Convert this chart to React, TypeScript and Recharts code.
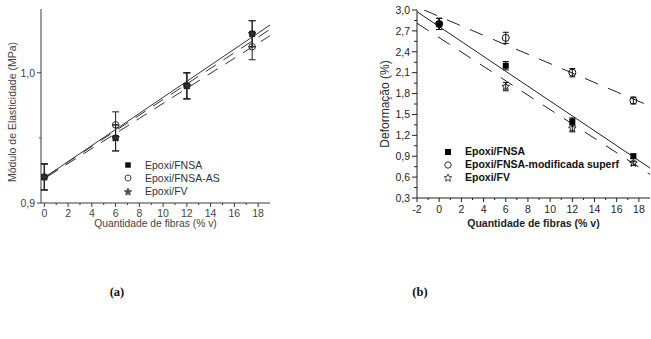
import React from "react";
import { ComposedChart, Scatter, XAxis, YAxis, ErrorBar, Legend, Label } from "recharts";

// quantidade de fibras (% v) used in both tests
const fibras = [0, 6, 12, 17.5];

// (a) módulo de elasticidade (MPa)
const moduloFnsa = [0.92, 0.95, 0.99, 1.03];
const moduloFnsaAs = [0.92, 0.96, 0.99, 1.02];
const moduloFv = [0.92, 0.95, 0.99, 1.03];
const moduloErro = [0.01, 0.01, 0.01, 0.01];

// (a) linear fits, end points
const ajusteModuloX = [0.3, 19];
const ajusteModuloFnsa = [0.9213, 1.0367];
const ajusteModuloFnsaAs = [0.9213, 1.0334];
const ajusteModuloFv = [0.9205, 1.0285];

// (b) deformação (%)
const deformFnsa = [2.8, 2.2, 1.4, 0.9];
const deformFnsaErro = [0.08, 0.06, 0.05, 0.03];
const deformModif = [2.8, 2.6, 2.1, 1.7];
const deformModifErro = [0.08, 0.08, 0.06, 0.05];
const deformFv = [2.8, 1.9, 1.3, 0.8];
const deformFvErro = [0.08, 0.06, 0.05, 0.03];

// (b) linear fits, end points
const ajusteDeformX = [-2, 19];
const ajusteDeformFnsa = [2.975, 0.73];
const ajusteDeformFv = [2.81, 0.64];
const ajusteDeformModifX = [-1.37, 19];
const ajusteDeformModif = [3.0, 1.62];

// ticks
const moduloXMajor = [0, 2, 4, 6, 8, 10, 12, 14, 16, 18];
const moduloXMinor = [1, 3, 5, 7, 9, 11, 13, 15, 17];
const moduloYMajor = [0.9, 1.0];
const moduloYMinor = [0.95];
const deformXMajor = [-2, 0, 2, 4, 6, 8, 10, 12, 14, 16, 18];
const deformXMinor = [-1, 1, 3, 5, 7, 9, 11, 13, 15, 17];
const deformYMajor = [0.3, 0.6, 0.9, 1.2, 1.5, 1.8, 2.1, 2.4, 2.7, 3.0];
const deformYMinor = [0.45, 0.75, 1.05, 1.35, 1.65, 1.95, 2.25, 2.55, 2.85];

const FONT = '"Liberation Sans", Arial, sans-serif';

const pts = (xs: number[], ys: number[], es?: number[]) =>
  xs.map((x, i) => ({ x, y: ys[i], e: es ? es[i] : 0 }));

const isIn = (v: number, list: number[]) => list.some((t) => Math.abs(t - v) < 1e-6);
const comma = (v: number) => v.toFixed(1).replace(".", ",");

const makeXTick =
  (major: number[], o: { fill: string; stroke: string; fontSize: number; dy: number }) =>
  (p: any) => {
    const v = p.payload.value;
    const big = isIn(v, major);
    return (
      <g>
        <line x1={p.x} x2={p.x} y1={p.y} y2={p.y + (big ? 4 : 2)} stroke={o.stroke} />
        {big && (
          <text x={p.x} y={p.y + o.dy} textAnchor="middle" fill={o.fill} fontSize={o.fontSize} fontFamily={FONT}>
            {String(v)}
          </text>
        )}
      </g>
    );
  };

const makeYTick =
  (major: number[], o: { fill: string; stroke: string; fontSize: number; len: number; gap: number }) =>
  (p: any) => {
    const v = p.payload.value;
    const big = isIn(v, major);
    return (
      <g>
        <line x1={p.x - (big ? o.len : o.len - 2)} x2={p.x} y1={p.y} y2={p.y} stroke={o.stroke} />
        {big && (
          <text x={p.x - o.len - o.gap} y={p.y} dy="0.36em" textAnchor="end" fill={o.fill} fontSize={o.fontSize} fontFamily={FONT}>
            {comma(v)}
          </text>
        )}
      </g>
    );
  };

const AxisTitle = (props: any) => {
  const { viewBox, text, dx = 0, dy = 0, vertical, size, weight, fill } = props;
  const x = vertical ? viewBox.x + dx : viewBox.x + viewBox.width / 2 + dx;
  const y = vertical ? viewBox.y + viewBox.height / 2 + dy : viewBox.y + dy;
  return (
    <text
      x={x}
      y={y}
      textAnchor="middle"
      dominantBaseline="central"
      transform={vertical ? `rotate(-90 ${x} ${y})` : undefined}
      fontSize={size}
      fontWeight={weight}
      fill={fill}
      fontFamily={FONT}
    >
      {text}
    </text>
  );
};

// marker shapes
const Square = ({ cx, cy, s = 6, fill = "#000" }: any) => (
  <rect x={cx - s / 2} y={cy - s / 2} width={s} height={s} fill={fill} />
);
const Ring = ({ cx, cy, r = 3.3, stroke = "#000" }: any) => (
  <circle cx={cx} cy={cy} r={r} fill="none" stroke={stroke} strokeWidth={1} />
);
const Star = ({ cx, cy, r = 4, fill = "none", stroke = "#000" }: any) => {
  const p: string[] = [];
  for (let k = 0; k < 10; k++) {
    const rr = k % 2 === 0 ? r : r * 0.45;
    const a = -Math.PI / 2 + (k * Math.PI) / 5;
    p.push(`${cx + rr * Math.cos(a)},${cy + rr * Math.sin(a)}`);
  }
  return <polygon points={p.join(" ")} fill={fill} stroke={stroke} strokeWidth={0.9} />;
};
const NoDot = () => <g />;

const LegendRows = ({ rows, size, weight, fill, rowH, gap }: any) => (
  <div style={{ fontFamily: FONT, fontSize: size, fontWeight: weight, color: fill }}>
    {rows.map((r: any) => (
      <div key={r.label} style={{ display: "flex", alignItems: "center", height: rowH, whiteSpace: "nowrap" }}>
        <svg width={10} height={10} style={{ marginRight: gap }}>
          {r.icon}
        </svg>
        <span style={{ lineHeight: `${rowH}px` }}>{r.label}</span>
      </div>
    ))}
  </div>
);

function ModuloChart() {
  const ink = "#3a3a3a";
  return (
    <ComposedChart width={300} height={240} margin={{ top: 9, right: 30, bottom: 0, left: 0 }}>
      <XAxis
        type="number"
        dataKey="x"
        domain={[-0.28, 19]}
        allowDataOverflow
        ticks={[...moduloXMajor, ...moduloXMinor].sort((a, b) => a - b)}
        interval={0}
        height={37}
        tickSize={0}
        tickMargin={0}
        tickLine={false}
        axisLine={{ stroke: ink }}
        tick={makeXTick(moduloXMajor, { fill: "#444", stroke: ink, fontSize: 10.5, dy: 13.5 })}
      >
        <Label content={<AxisTitle text="Quantidade de fibras (% v)" dy={20} size={10.3} fill="#444" />} />
      </XAxis>
      <XAxis xAxisId="top" orientation="top" type="number" domain={[-0.28, 19]} height={0} tick={false} tickLine={false} axisLine={{ stroke: "#999" }} />
      <YAxis
        type="number"
        dataKey="y"
        domain={[0.9, 1.049]}
        allowDataOverflow
        ticks={[...moduloYMajor, ...moduloYMinor]}
        interval={0}
        width={41}
        tickSize={0}
        tickMargin={0}
        tickLine={false}
        axisLine={{ stroke: ink }}
        tick={makeYTick(moduloYMajor, { fill: "#444", stroke: ink, fontSize: 10.5, len: 4, gap: 2 })}
      >
        <Label content={<AxisTitle text="Módulo de Elasticidade (MPa)" vertical dx={12} dy={6} size={10.5} fill="#444" />} />
      </YAxis>
      <YAxis yAxisId="right" orientation="right" type="number" domain={[0.9, 1.049]} width={0} tick={false} tickLine={false} axisLine={{ stroke: "#666" }} />

      <Scatter data={pts(ajusteModuloX, ajusteModuloFnsa)} shape={NoDot} line={{ stroke: "#333", strokeWidth: 1 }} isAnimationActive={false} />
      <Scatter data={pts(ajusteModuloX, ajusteModuloFnsaAs)} shape={NoDot} line={{ stroke: "#333", strokeWidth: 1, strokeDasharray: "12 9" }} isAnimationActive={false} />
      <Scatter data={pts(ajusteModuloX, ajusteModuloFv)} shape={NoDot} line={{ stroke: "#333", strokeWidth: 1, strokeDasharray: "12 9" }} isAnimationActive={false} />

      <Scatter data={pts(fibras, moduloFnsa, moduloErro)} shape={(p: any) => <Square cx={p.cx} cy={p.cy} s={6} fill="#111" />} isAnimationActive={false}>
        <ErrorBar dataKey="e" direction="y" width={3.5} stroke="#222" strokeWidth={1} />
      </Scatter>
      <Scatter data={pts(fibras, moduloFnsaAs, moduloErro)} shape={(p: any) => <Ring cx={p.cx} cy={p.cy} r={3.3} stroke="#333" />} isAnimationActive={false}>
        <ErrorBar dataKey="e" direction="y" width={3.5} stroke="#222" strokeWidth={1} />
      </Scatter>
      <Scatter data={pts(fibras, moduloFv, moduloErro)} shape={(p: any) => <Star cx={p.cx} cy={p.cy} r={4} fill="#333" stroke="#222" />} isAnimationActive={false}>
        <ErrorBar dataKey="e" direction="y" width={3.5} stroke="#222" strokeWidth={1} />
      </Scatter>

      <Legend
        layout="vertical"
        align="center"
        verticalAlign="middle"
        wrapperStyle={{ left: 122.7, top: 158.7, width: "auto" }}
        content={() => (
          <LegendRows
            size={10.5}
            fill="#333"
            rowH={13.2}
            gap={12.3}
            rows={[
              { label: "Epoxi/FNSA", icon: <Square cx={5} cy={5} s={5.5} fill="#111" /> },
              { label: "Epoxi/FNSA-AS", icon: <Ring cx={5} cy={5} r={3} stroke="#444" /> },
              { label: "Epoxi/FV", icon: <Star cx={5} cy={5} r={3.8} fill="#555" stroke="#444" /> },
            ]}
          />
        )}
      />
    </ComposedChart>
  );
}

function DeformChart() {
  const ink = "#1e1e1e";
  return (
    <ComposedChart width={321} height={240} margin={{ top: 10, right: 1, bottom: 0, left: 0 }}>
      <XAxis
        type="number"
        dataKey="x"
        domain={[-2, 19]}
        allowDataOverflow
        ticks={[...deformXMajor, ...deformXMinor].sort((a, b) => a - b)}
        interval={0}
        height={42}
        tickSize={0}
        tickMargin={0}
        tickLine={false}
        axisLine={{ stroke: ink }}
        tick={makeXTick(deformXMajor, { fill: ink, stroke: ink, fontSize: 10.5, dy: 14.5 })}
      >
        <Label content={<AxisTitle text="Quantidade de fibras (% v)" dy={25} size={10.5} weight="bold" fill={ink} />} />
      </XAxis>
      <XAxis xAxisId="top" orientation="top" type="number" domain={[-2, 19]} height={0} tick={false} tickLine={false} axisLine={{ stroke: "#a0a0a0", strokeWidth: 2.5 }} />
      <YAxis
        type="number"
        dataKey="y"
        domain={[0.3, 3.0]}
        allowDataOverflow
        ticks={[...deformYMajor, ...deformYMinor].sort((a, b) => a - b)}
        interval={0}
        width={87}
        tickSize={0}
        tickMargin={0}
        tickLine={false}
        axisLine={{ stroke: ink }}
        tick={makeYTick(deformYMajor, { fill: ink, stroke: ink, fontSize: 10.5, len: 5, gap: 2 })}
      >
        <Label content={<AxisTitle text="Deformação (%)" vertical dx={55} dy={0} size={12} fill="#2a2a2a" />} />
      </YAxis>
      <YAxis yAxisId="right" orientation="right" type="number" domain={[0.3, 3.0]} width={0} tick={false} tickLine={false} axisLine={{ stroke: "#555" }} />

      <Scatter data={pts(ajusteDeformModifX, ajusteDeformModif)} shape={NoDot} line={{ stroke: "#222", strokeWidth: 1, strokeDasharray: "14 11" }} isAnimationActive={false} />
      <Scatter data={pts(ajusteDeformX, ajusteDeformFnsa)} shape={NoDot} line={{ stroke: "#222", strokeWidth: 1 }} isAnimationActive={false} />
      <Scatter data={pts(ajusteDeformX, ajusteDeformFv)} shape={NoDot} line={{ stroke: "#222", strokeWidth: 1, strokeDasharray: "14 11" }} isAnimationActive={false} />

      <Scatter data={pts(fibras, deformFnsa, deformFnsaErro)} shape={(p: any) => <Square cx={p.cx} cy={p.cy} s={6} fill="#000" />} isAnimationActive={false}>
        <ErrorBar dataKey="e" direction="y" width={3} stroke="#111" strokeWidth={1} />
      </Scatter>
      <Scatter data={pts(fibras, deformModif, deformModifErro)} shape={(p: any) => <Ring cx={p.cx} cy={p.cy} r={3.5} stroke="#111" />} isAnimationActive={false}>
        <ErrorBar dataKey="e" direction="y" width={3} stroke="#111" strokeWidth={1} />
      </Scatter>
      <Scatter data={pts(fibras, deformFv, deformFvErro)} shape={(p: any) => <Star cx={p.cx} cy={p.cy} r={4} fill="none" stroke="#111" />} isAnimationActive={false}>
        <ErrorBar dataKey="e" direction="y" width={3} stroke="#111" strokeWidth={1} />
      </Scatter>

      <Legend
        layout="vertical"
        align="center"
        verticalAlign="middle"
        wrapperStyle={{ left: 113.3, top: 145.2, width: "auto" }}
        content={() => (
          <LegendRows
            size={10.5}
            weight="bold"
            fill="#111"
            rowH={13}
            gap={11.7}
            rows={[
              { label: "Epoxi/FNSA", icon: <Square cx={5} cy={5} s={6} fill="#000" /> },
              { label: "Epoxi/FNSA-modificada superf", icon: <Ring cx={5} cy={5} r={3.2} stroke="#333" /> },
              { label: "Epoxi/FV", icon: <Star cx={5} cy={5} r={4} fill="none" stroke="#333" /> },
            ]}
          />
        )}
      />
    </ComposedChart>
  );
}

const caption: React.CSSProperties = {
  position: "absolute",
  width: 40,
  textAlign: "center",
  fontFamily: "Liberation Serif, serif",
  fontWeight: "bold",
  fontSize: 12.5,
  lineHeight: "14px",
  color: "#111",
};

export default function App() {
  return (
    <div style={{ position: "absolute", left: 0, top: 0, width: 651, height: 339, background: "#fff", overflow: "hidden" }}>
      <div style={{ position: "absolute", left: 0, top: 0 }}>
        <ModuloChart />
      </div>
      <div style={{ position: "absolute", left: 330, top: 0 }}>
        <DeformChart />
      </div>
      <div style={{ ...caption, left: 97, top: 285 }}>(a)</div>
      <div style={{ ...caption, left: 400, top: 285 }}>(b)</div>
    </div>
  );
}
